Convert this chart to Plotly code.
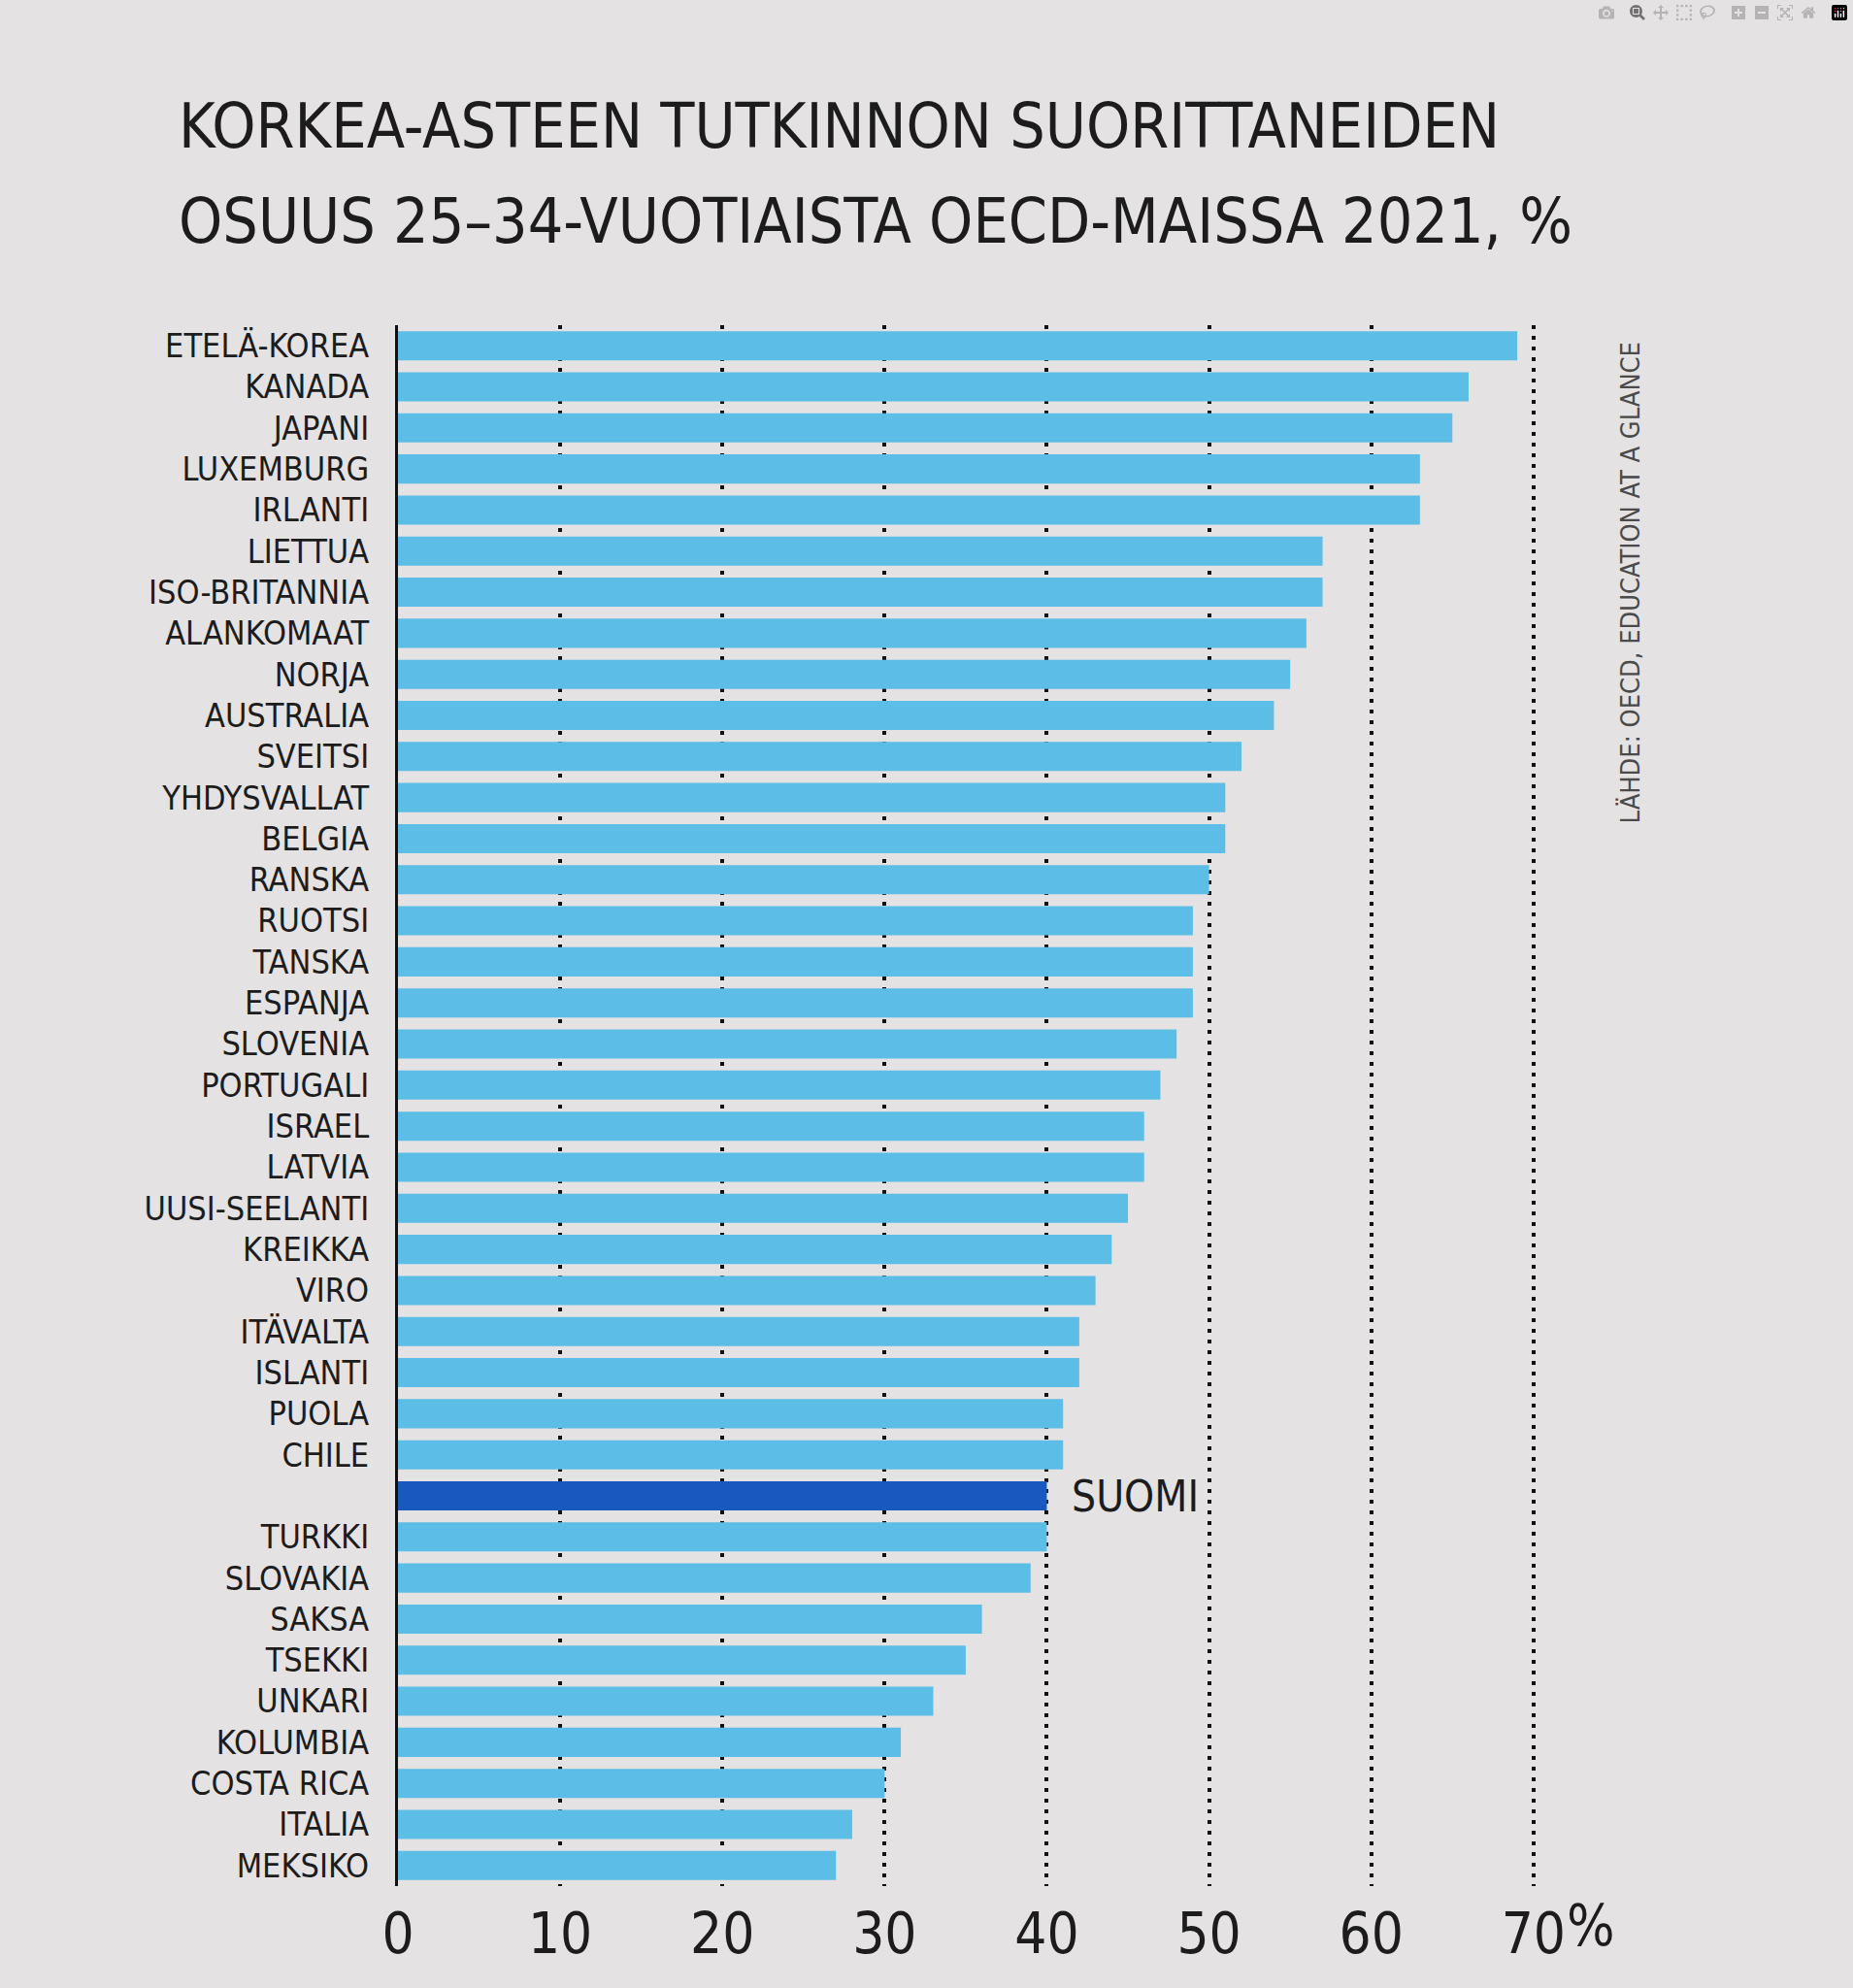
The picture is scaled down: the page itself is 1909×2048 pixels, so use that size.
import plotly.graph_objects as go

# ---- data ----
countries = ["ETELÄ-KOREA", "KANADA", "JAPANI", "LUXEMBURG", "IRLANTI", "LIETTUA",
             "ISO-BRITANNIA", "ALANKOMAAT", "NORJA", "AUSTRALIA", "SVEITSI",
             "YHDYSVALLAT", "BELGIA", "RANSKA", "RUOTSI", "TANSKA", "ESPANJA",
             "SLOVENIA", "PORTUGALI", "ISRAEL", "LATVIA", "UUSI-SEELANTI", "KREIKKA",
             "VIRO", "ITÄVALTA", "ISLANTI", "PUOLA", "CHILE", "SUOMI", "TURKKI",
             "SLOVAKIA", "SAKSA", "TSEKKI", "UNKARI", "KOLUMBIA", "COSTA RICA",
             "ITALIA", "MEKSIKO"]
shares = [69, 66, 65, 63, 63, 57, 57, 56, 55, 54, 52, 51, 51, 50, 49, 49, 49,
          48, 47, 46, 46, 45, 44, 43, 42, 42, 41, 41, 40, 40, 39, 36, 35, 33,
          31, 30, 28, 27]
highlight = "SUOMI"
x_tickvals = [0, 10, 20, 30, 40, 50, 60, 70]
x_ticktext = ["0", "10", "20", "30", "40", "50", "60", "70"]

title_lines = ["KORKEA-ASTEEN TUTKINNON SUORITTANEIDEN",
               "OSUUS 25–34-VUOTIAISTA OECD-MAISSA 2021, %"]
source_text = "LÄHDE: OECD, EDUCATION AT A GLANCE"

# ---- styling ----
BG = "#e5e2e3"
LIGHT = "#5cbde6"
DARK = "#1759bf"
INK = "#1c1c1c"
NARROW = "Liberation Sans Narrow, DejaVu Sans Condensed, Roboto Condensed, Arial Narrow, sans-serif"

colors = [DARK if c == highlight else LIGHT for c in countries]
y_ticktext = ["" if c == highlight else c for c in countries]

fig = go.Figure()
fig.add_trace(go.Bar(
    x=shares, y=countries, orientation="h",
    marker=dict(color=colors, line=dict(width=0)),
    hoverinfo="x+y", showlegend=False,
))

fig.update_layout(
    width=1909, height=2048,
    paper_bgcolor=BG, plot_bgcolor=BG,
    margin=dict(l=410, r=325, t=335, b=105),
    bargap=0.29,
    xaxis=dict(
        range=[0, 70.25], tickmode="array", tickvals=x_tickvals, ticktext=x_ticktext,
        showgrid=True, gridcolor="#111111", gridwidth=4, griddash="4px,7px",
        zeroline=False, showline=False, ticks="",
        tickfont=dict(family=NARROW, size=58, color=INK),
        ticklabelstandoff=10,
    ),
    yaxis=dict(
        type="category", categoryorder="array", categoryarray=countries,
        range=[len(countries) - 0.5, -0.5],
        tickmode="array", tickvals=countries, ticktext=y_ticktext,
        showgrid=False, zeroline=False,
        showline=True, linecolor="#111111", linewidth=3,
        ticks="", ticklabelstandoff=20,
        tickfont=dict(family=NARROW, size=34, color=INK),
    ),
)

annotations = [
    dict(text=title_lines[0], xref="paper", yref="paper", x=-0.194, y=1.1275,
         xanchor="left", yanchor="middle", showarrow=False,
         font=dict(family=NARROW, size=64, color=INK)),
    dict(text=title_lines[1], xref="paper", yref="paper", x=-0.194, y=1.0666,
         xanchor="left", yanchor="middle", showarrow=False,
         font=dict(family=NARROW, size=64, color=INK)),
    dict(text=source_text, xref="paper", yref="paper", x=1.081, y=0.835,
         xanchor="center", yanchor="middle", textangle=-90, showarrow=False,
         font=dict(family=NARROW, size=27, color="#4a4a4a")),
    dict(text=highlight, xref="x", yref="y",
         x=shares[countries.index(highlight)], y=highlight,
         xanchor="left", yanchor="middle", xshift=24, showarrow=False,
         font=dict(family=NARROW, size=44, color=INK)),
    dict(text="%", xref="x", yref="paper", x=70, y=-0.0255,
         xanchor="left", yanchor="middle", xshift=32, showarrow=False,
         font=dict(family=NARROW, size=58, color=INK)),
]
fig.update_layout(annotations=annotations)

fig.write_html("out.html", post_script="document.body.style.margin='0';")
